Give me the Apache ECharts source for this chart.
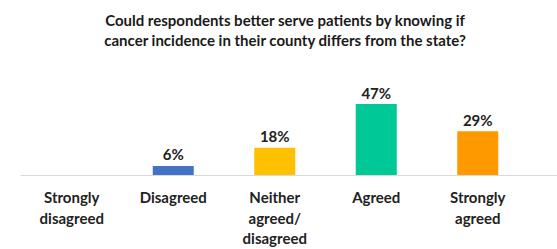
<!DOCTYPE html>
<html>
<head>
<meta charset="utf-8">
<script src="https://cdn.jsdelivr.net/npm/echarts@6/dist/echarts.min.js"></script>
<style>
  html, body { margin: 0; padding: 0; background: #fff; }
  #chart { width: 557px; height: 249px; }
</style>
</head>
<body>
<div id="chart"></div>
<script>
const categories = ['Strongly\ndisagreed', 'Disagreed', 'Neither\nagreed/\ndisagreed', 'Agreed', 'Strongly\nagreed'];
const shares = [0, 6, 18, 47, 29];
const barColors = ['#4472C4', '#4472C4', '#FFC000', '#00C896', '#FF9900'];

const font = 'Lato, "Open Sans", sans-serif';

const chart = echarts.init(document.getElementById('chart'), null, { renderer: 'svg' });

chart.setOption({
  animation: false,
  title: {
    text: 'Could respondents better serve patients by knowing if\ncancer incidence in their county differs from the state?',
    left: 280,
    textAlign: 'center',
    top: 5,
    textStyle: {
      fontFamily: font,
      fontSize: 15,
      fontWeight: 'bold',
      color: '#1a1a1a',
      lineHeight: 20
    }
  },
  grid: [
    { left: 21, width: 507.5, top: 99.5, bottom: 74 },
    // long baseline that runs to the right edge
    { left: 21, right: 0, top: 99.5, bottom: 74 }
  ],
  xAxis: [{
    type: 'category',
    gridIndex: 0,
    data: categories,
    axisLine: { show: false },
    axisTick: { show: false },
    axisLabel: {
      interval: 0,
      margin: 12,
      fontFamily: font,
      fontSize: 15,
      fontWeight: 'bold',
      color: '#222',
      lineHeight: 20.5
    }
  }, {
    type: 'value',
    gridIndex: 1,
    axisLine: { show: true, lineStyle: { color: '#d9d9d9', width: 1 } },
    axisTick: { show: false },
    axisLabel: { show: false },
    splitLine: { show: false }
  }],
  yAxis: [{
    type: 'value',
    gridIndex: 0,
    min: 0,
    max: 50,
    show: false
  }, {
    type: 'value',
    gridIndex: 1,
    show: false
  }],
  series: [{
    type: 'bar',
    xAxisIndex: 0,
    yAxisIndex: 0,
    barWidth: 41,
    data: shares.map((v, i) => ({
      value: v,
      itemStyle: { color: barColors[i] },
      label: { show: v > 0 }
    })),
    label: {
      position: 'top',
      distance: 4,
      formatter: '{c}%',
      fontFamily: font,
      fontSize: 15,
      fontWeight: 'bold',
      color: '#222'
    }
  }]
});
</script>
</body>
</html>
